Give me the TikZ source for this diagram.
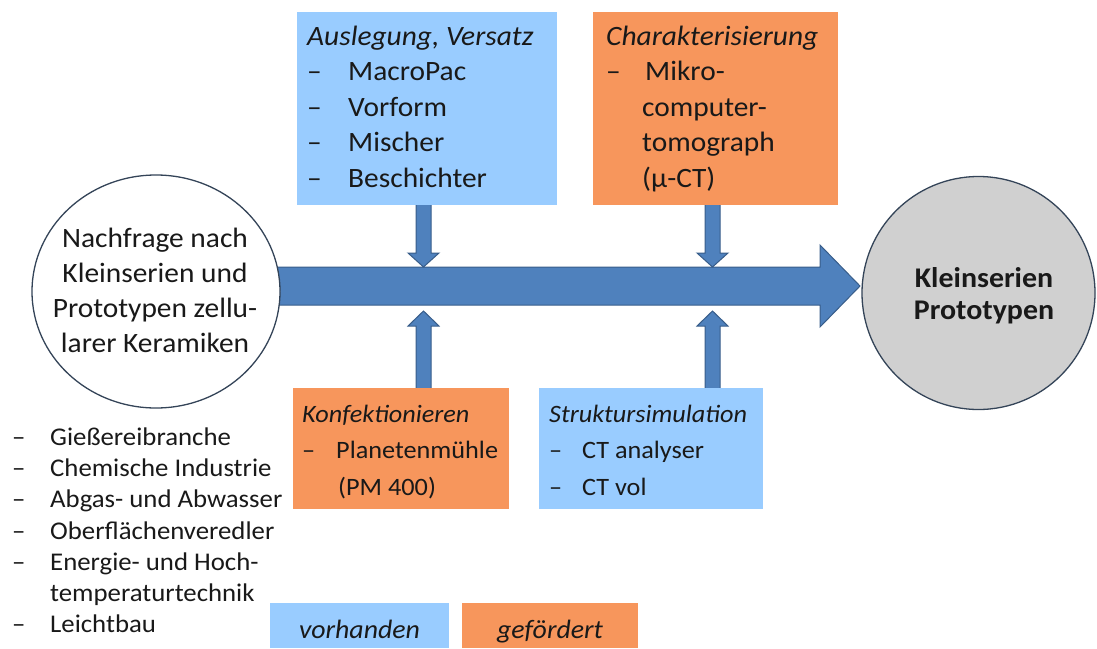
\documentclass[tikz,border=0pt]{standalone}
\usepackage{fontspec}
\setmainfont{Carlito}[FakeStretch=1.05]
\usetikzlibrary{calc,shapes.geometric}
\definecolor{lblue}{RGB}{153,204,255}
\definecolor{lorange}{RGB}{247,150,92}
\definecolor{ablue}{RGB}{79,129,189}
\definecolor{ablueborder}{RGB}{56,93,138}
\definecolor{cgray}{RGB}{208,208,208}
\definecolor{cborder}{RGB}{52,68,88}
\definecolor{txt}{RGB}{25,25,25}
\newcommand{\li}[2][40pt]{\makebox[#1][l]{–}#2}
\tikzset{
  box/.style={draw=none, inner sep=0pt, outer sep=0pt, anchor=north west},
  bluebox/.style={box, fill=lblue},
  orangebox/.style={box, fill=lorange},
  boxtext/.style={anchor=north west, inner sep=0pt, align=left, text=txt, font=\fontsize{28}{35.5}\selectfont},
  lowtext/.style={boxtext, font=\fontsize{25}{36.5}\selectfont},
  legtext/.style={anchor=base, inner sep=0pt, text=txt, font=\fontsize{26.5}{30}\selectfont\itshape},
  blockarrow/.style={fill=ablue, draw=ablueborder, line width=1pt, line join=miter},
  circ/.style={draw=cborder, line width=1.3pt, inner sep=0pt},
  circtext/.style={anchor=north, inner sep=0pt, text=txt, align=center},
}
\begin{document}
\begin{tikzpicture}[x=1pt,y=-1pt]
\useasboundingbox (0,0) rectangle (1097,648);

% named end points of the connectors
\coordinate (bigstart) at (260,286);
\coordinate (bigtip) at (860,286);

% big arrow
\draw[blockarrow] ($(bigstart)+(0,-19)$) -- ($(bigtip)+(-40,-19)$) -- ($(bigtip)+(-40,-41)$) -- (bigtip)
  -- ($(bigtip)+(-40,41)$) -- ($(bigtip)+(-40,19)$) -- ($(bigstart)+(0,19)$) -- cycle;

% small vertical arrows
\foreach \x in {423.5,712.5}{
  \draw[blockarrow] (\x-7.5,198) -- (\x+7.5,198) -- (\x+7.5,253) -- (\x+15.5,253) -- (\x,267)
    -- (\x-15.5,253) -- (\x-7.5,253) -- cycle;
  \draw[blockarrow] (\x-7.5,395) -- (\x+7.5,395) -- (\x+7.5,326) -- (\x+15.5,326) -- (\x,311)
    -- (\x-15.5,326) -- (\x-7.5,326) -- cycle;
}

% boxes
\node[bluebox, minimum width=260pt, minimum height=193pt] (ausl) at (297,12) {};
\node[orangebox, minimum width=245pt, minimum height=193pt] (chara) at (593,12) {};
\node[orangebox, minimum width=216pt, minimum height=121pt] (konf) at (293,388) {};
\node[bluebox, minimum width=224pt, minimum height=121pt] (struk) at (539,388) {};
\node[bluebox, minimum width=179pt, minimum height=45pt] (vorh) at (270,603) {};
\node[orangebox, minimum width=176pt, minimum height=45pt] (gef) at (462,603) {};

% box texts
\node[boxtext] (auslT) at (307,20.15) {\strut\textit{Auslegung, Versatz}\\
  \li[41pt]{MacroPac}\\ \li[41pt]{Vorform}\\ \li[41pt]{Mischer}\\ \li[41pt]{Beschichter}};
\node[boxtext] (charaT) at (606,20.15) {\strut\textit{Charakterisierung}\\
  \li[39pt]{Mikro-}\\ \hspace*{36pt}computer-\\ \hspace*{36pt}tomograph\\ \hspace*{36pt}(µ-CT)};
\node[lowtext] (konfT) at (302,396.5) {\strut\textit{Konfektionieren}\\
  \li[34pt]{Planetenmühle}\\ \hspace*{36pt}(PM 400)};
\node[lowtext] (strukT) at (549,396.5) {\strut\textit{Struktursimulation}\\
  \li[33pt]{CT analyser}\\ \li[33pt]{CT vol}};
\node[legtext] (vorhT) at (359.5,638) {vorhanden};
\node[legtext] (gefT) at (550,638) {gefördert};

% circles
\node[circ, ellipse, fill=white, minimum width=248pt, minimum height=233pt] (nach) at (156,291.5) {};
\node[circtext, font=\fontsize{28}{35}\selectfont] (nachT) at (155,222.5)
  {\strut Nachfrage nach\\ Kleinserien und\\ Prototypen zellu-\\ larer Keramiken};
\node[circ, circle, fill=cgray, minimum size=233pt] (proto) at (978.5,293) {};
\node[circtext, font=\fontsize{28.5}{32}\selectfont\bfseries] (protoT) at (984,264.6)
  {\strut Kleinserien\\ Prototypen};

% left list
\node[anchor=north west, inner sep=0pt, align=left, text=txt, font=\fontsize{25.5}{31.3}\selectfont] (list) at (12,423)
  {\strut\li[38pt]{Gießereibranche}\\ \li[38pt]{Chemische Industrie}\\ \li[38pt]{Abgas- und Abwasser}\\
   \li[38pt]{Oberflächenveredler}\\ \li[38pt]{Energie- und Hoch-}\\ \hspace*{38pt}temperaturtechnik\\
   \li[38pt]{Leichtbau}};
\end{tikzpicture}
\end{document}
